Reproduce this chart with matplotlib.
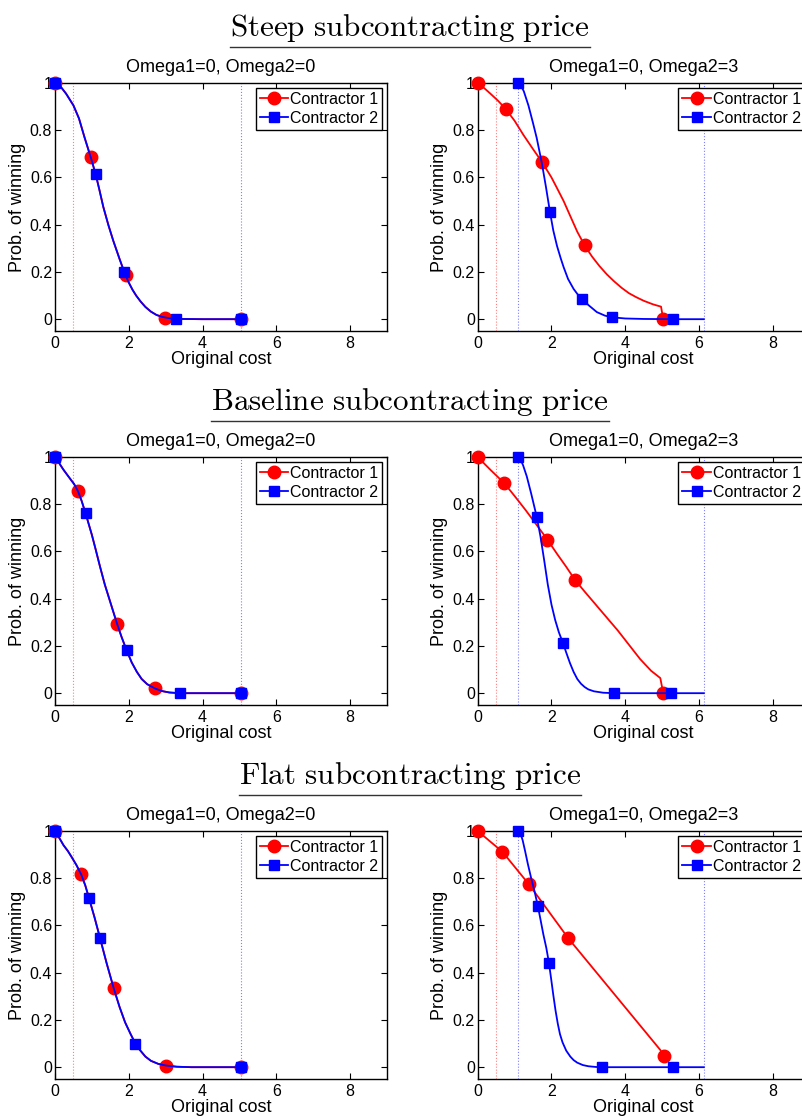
import matplotlib
matplotlib.use("Agg")
import matplotlib.pyplot as plt
from matplotlib.lines import Line2D

plt.rcParams['font.family'] = ['Liberation Sans', 'DejaVu Sans']
plt.rcParams['font.size'] = 11.5
plt.rcParams['mathtext.fontset'] = 'cm'
plt.rcParams['xtick.direction'] = 'in'
plt.rcParams['ytick.direction'] = 'in'
plt.rcParams['xtick.top'] = True
plt.rcParams['ytick.right'] = True
plt.rcParams['xtick.major.size'] = 4
plt.rcParams['ytick.major.size'] = 4
plt.rcParams['xtick.major.pad'] = 3.5
plt.rcParams['ytick.major.pad'] = 2

row_titles = ["Steep subcontracting price", "Baseline subcontracting price", "Flat subcontracting price"]
panel_titles = ["Omega1=0, Omega2=0", "Omega1=0, Omega2=3"]
legend_labels = ["Contractor 1", "Contractor 2"]
x_ticks = [0, 2, 4, 6, 8]
y_ticks = [0, 0.2, 0.4, 0.6, 0.8, 1]
y_tick_labels = ["0", "0.2", "0.4", "0.6", "0.8", "1"]

# --- steep, omega2=0 (both contractors share the curve)
steep0_x = [0, 0.15, 0.3, 0.5, 0.65, 0.8, 0.97, 1.10, 1.2, 1.31, 1.45, 1.58, 1.75, 1.9, 2.0, 2.1,
            2.2, 2.32, 2.45, 2.6, 2.75, 2.9, 3.1, 3.4, 4.0, 5.05]
steep0_y = [1.0, 0.985, 0.955, 0.905, 0.85, 0.77, 0.685, 0.615, 0.55, 0.475, 0.397, 0.332, 0.255, 0.19,
            0.155, 0.125, 0.1, 0.075, 0.052, 0.032, 0.018, 0.01, 0.004, 0.001, 0, 0]
steep0_m1_x = [0, 0.97, 1.93, 2.97, 5.05]
steep0_m1_y = [1, 0.685, 0.186, 0.007, 0]
steep0_m2_x = [0, 1.10, 1.875, 3.28, 5.05]
steep0_m2_y = [1, 0.615, 0.20, 0.001, 0]

# --- steep, omega2=3
steep3_c1_x = [0, 0.15, 0.33, 0.55, 0.76, 1.0, 1.24, 1.5, 1.75, 2.0, 2.15, 2.33, 2.5, 2.7, 2.9, 3.1,
               3.3, 3.5, 3.7, 3.9, 4.1, 4.3, 4.5, 4.75, 4.97, 5.03]
steep3_c1_y = [1, 0.982, 0.957, 0.925, 0.89, 0.84, 0.78, 0.72, 0.664, 0.6, 0.555, 0.50, 0.44, 0.37,
               0.312, 0.265, 0.225, 0.19, 0.16, 0.133, 0.11, 0.093, 0.078, 0.063, 0.053, 0]
steep3_c2_x = [1.09, 1.15, 1.25, 1.375, 1.5, 1.6, 1.74, 1.85, 1.96, 2.05, 2.15, 2.25, 2.33, 2.45, 2.6,
               2.72, 2.84, 3.0, 3.23, 3.45, 3.64, 4.0, 4.5, 5.29, 6.13]
steep3_c2_y = [1, 0.995, 0.965, 0.905, 0.83, 0.767, 0.66, 0.56, 0.453, 0.375, 0.31, 0.258, 0.22, 0.17,
               0.128, 0.103, 0.085, 0.06, 0.03, 0.015, 0.008, 0.003, 0.001, 0, 0]
steep3_m1_x = [0, 0.76, 1.75, 2.90, 5.03]
steep3_m1_y = [1, 0.89, 0.664, 0.312, 0]
steep3_m2_x = [1.09, 1.96, 2.84, 3.64, 5.29]
steep3_m2_y = [1, 0.453, 0.085, 0.008, 0]

# --- baseline, omega2=0
base0_x = [0, 0.1, 0.23, 0.4, 0.52, 0.62, 0.72, 0.83, 1.0, 1.1, 1.22, 1.35, 1.45, 1.56, 1.68, 1.8,
           1.94, 2.08, 2.22, 2.35, 2.5, 2.71, 2.9, 3.1, 3.38, 5.05]
base0_y = [1, 0.977, 0.946, 0.91, 0.885, 0.856, 0.815, 0.761, 0.67, 0.61, 0.536, 0.46, 0.41, 0.355,
           0.295, 0.24, 0.182, 0.13, 0.09, 0.06, 0.038, 0.02, 0.009, 0.003, 0.0, 0]
base0_m1_x = [0, 0.62, 1.68, 2.71, 5.05]
base0_m1_y = [1, 0.856, 0.295, 0.02, 0]
base0_m2_x = [0, 0.83, 1.94, 3.38, 5.05]
base0_m2_y = [1, 0.761, 0.182, 0.0, 0]

# --- baseline, omega2=3
base3_c1_x = [0, 0.35, 0.715, 1.0, 1.3, 1.6, 1.89, 2.15, 2.4, 2.64, 2.9, 3.2, 3.5, 3.8, 4.1, 4.4,
              4.7, 4.95, 5.03]
base3_c1_y = [1, 0.945, 0.89, 0.835, 0.775, 0.712, 0.65, 0.59, 0.535, 0.479, 0.43, 0.375, 0.32,
              0.265, 0.205, 0.145, 0.095, 0.064, 0]
base3_c2_x = [1.09, 1.15, 1.23, 1.33, 1.45, 1.6, 1.7, 1.8, 1.9, 2.0, 2.1, 2.2, 2.31, 2.4, 2.5, 2.6,
              2.7, 2.8, 2.9, 3.0, 3.15, 3.4, 3.70, 5.25, 6.13]
base3_c2_y = [1, 0.993, 0.965, 0.918, 0.845, 0.747, 0.665, 0.565, 0.46, 0.375, 0.31, 0.258, 0.213,
              0.172, 0.128, 0.09, 0.06, 0.04, 0.026, 0.016, 0.008, 0.002, 0, 0, 0]
base3_m1_x = [0, 0.715, 1.89, 2.64, 5.03]
base3_m1_y = [1, 0.89, 0.65, 0.479, 0]
base3_m2_x = [1.09, 1.60, 2.31, 3.70, 5.25]
base3_m2_y = [1, 0.747, 0.213, 0, 0]

# --- flat, omega2=0
flat0_x = [0, 0.1, 0.23, 0.35, 0.45, 0.58, 0.71, 0.82, 0.92, 1.07, 1.22, 1.4, 1.59, 1.75, 1.9, 2.05,
           2.18, 2.3, 2.45, 2.6, 2.8, 3.01, 3.3, 3.7, 5.05]
flat0_y = [1, 0.975, 0.94, 0.915, 0.89, 0.856, 0.816, 0.77, 0.717, 0.635, 0.547, 0.44, 0.335, 0.255,
           0.19, 0.14, 0.10, 0.073, 0.045, 0.027, 0.014, 0.007, 0.002, 0, 0]
flat0_m1_x = [0, 0.71, 1.59, 3.01, 5.05]
flat0_m1_y = [1, 0.816, 0.335, 0.007, 0]
flat0_m2_x = [0, 0.92, 1.22, 2.18, 5.05]
flat0_m2_y = [1, 0.717, 0.547, 0.10, 0]

# --- flat, omega2=3
flat3_c1_x = [0, 0.67, 1.385, 2.46, 4.95, 5.04]
flat3_c1_y = [1, 0.912, 0.775, 0.545, 0.073, 0.048]
flat3_c2_x = [1.10, 1.16, 1.22, 1.285, 1.36, 1.45, 1.54, 1.63, 1.7, 1.78, 1.86, 1.93, 1.99, 2.05,
              2.11, 2.17, 2.23, 2.3, 2.4, 2.51, 2.6, 2.7, 2.85, 3.0, 3.2, 3.37, 5.29, 6.13]
flat3_c2_y = [1, 0.99, 0.96, 0.915, 0.86, 0.8, 0.745, 0.683, 0.627, 0.562, 0.505, 0.443, 0.375,
              0.305, 0.24, 0.185, 0.14, 0.105, 0.07, 0.045, 0.03, 0.019, 0.009, 0.004, 0.001, 0, 0, 0]
flat3_m1_x = [0, 0.67, 1.385, 2.46, 5.04]
flat3_m1_y = [1, 0.912, 0.775, 0.545, 0.048]
flat3_m2_x = [1.10, 1.63, 1.93, 3.37, 5.29]
flat3_m2_y = [1, 0.683, 0.443, 0, 0]

# dotted reference lines (red, blue)
vlines0 = [(0.5, 'red'), (5.05, 'blue')]
vlines3 = [(0.5, 'red'), (1.08, 'blue'), (6.13, 'blue')]

panels = [
    [(steep0_x, steep0_y, steep0_x, steep0_y, steep0_m1_x, steep0_m1_y, steep0_m2_x, steep0_m2_y, vlines0),
     (steep3_c1_x, steep3_c1_y, steep3_c2_x, steep3_c2_y, steep3_m1_x, steep3_m1_y, steep3_m2_x, steep3_m2_y, vlines3)],
    [(base0_x, base0_y, base0_x, base0_y, base0_m1_x, base0_m1_y, base0_m2_x, base0_m2_y, vlines0),
     (base3_c1_x, base3_c1_y, base3_c2_x, base3_c2_y, base3_m1_x, base3_m1_y, base3_m2_x, base3_m2_y, vlines3)],
    [(flat0_x, flat0_y, flat0_x, flat0_y, flat0_m1_x, flat0_m1_y, flat0_m2_x, flat0_m2_y, vlines0),
     (flat3_c1_x, flat3_c1_y, flat3_c2_x, flat3_c2_y, flat3_m1_x, flat3_m1_y, flat3_m2_x, flat3_m2_y, vlines3)],
]

W, H = 803, 1119
fig = plt.figure(figsize=(W / 100, H / 100), dpi=100)

ax_left = [55 / W, 477.7 / W]
ax_w = 332 / W
ax_h = 248 / H
ax_bottom = [1 - 331 / H, 1 - 705 / H, 1 - 1079 / H]
title_base = [36, 410, 784]
underline_y = [46.7, 420.7, 794.7]

lw = 1.3
label_fs = 13
handles = [Line2D([], [], color='red', lw=lw, marker='o', ms=9),
           Line2D([], [], color='blue', lw=lw, marker='s', ms=7.5)]

renderer = fig.canvas.get_renderer()
for r in range(3):
    t = fig.text(410 / W, 1 - title_base[r] / H,
                 r'$\mathrm{' + row_titles[r].replace(' ', r'\ ') + '}$',
                 fontsize=22.4, ha='center', va='baseline')
    bb = t.get_window_extent(renderer)
    yl = 1 - underline_y[r] / H
    fig.add_artist(Line2D([bb.x0 / W, bb.x1 / W], [yl, yl], color='#333333', lw=1.0,
                          transform=fig.transFigure))
    for c in range(2):
        c1x, c1y, c2x, c2y, m1x, m1y, m2x, m2y, vl = panels[r][c]
        ax = fig.add_axes([ax_left[c], ax_bottom[r], ax_w, ax_h])
        for xv, col in vl:
            ax.axvline(xv, color=col, ls=':', lw=0.8, alpha=0.5)
        ax.plot(c1x, c1y, color='red', lw=lw)
        ax.plot(m1x, m1y, ls='none', marker='o', ms=9, color='red', clip_on=False, zorder=3)
        ax.plot(c2x, c2y, color='blue', lw=lw, zorder=3)
        ax.plot(m2x, m2y, ls='none', marker='s', ms=7.5, color='blue', clip_on=False, zorder=3)
        ax.set_xlim(0, 9)
        ax.set_ylim(-0.05, 1)
        ax.set_xticks(x_ticks)
        ax.set_yticks(y_ticks)
        ax.set_yticklabels(y_tick_labels)
        ax.set_title(panel_titles[c], fontsize=label_fs, pad=8)
        ax.set_xlabel("Original cost", fontsize=label_fs, labelpad=0)
        ax.set_ylabel("Prob. of winning", fontsize=label_fs, labelpad=3)
        for s in ax.spines.values():
            s.set_linewidth(1.0)
        leg = ax.legend(handles, legend_labels, loc='upper right', fancybox=False,
                        edgecolor='black', framealpha=1, borderpad=0.25,
                        labelspacing=0.25, handlelength=1.8, handletextpad=0.1,
                        borderaxespad=0.3)
        leg.get_frame().set_linewidth(1.0)
        leg.set_zorder(5)

fig.savefig("out.png", dpi=100)
